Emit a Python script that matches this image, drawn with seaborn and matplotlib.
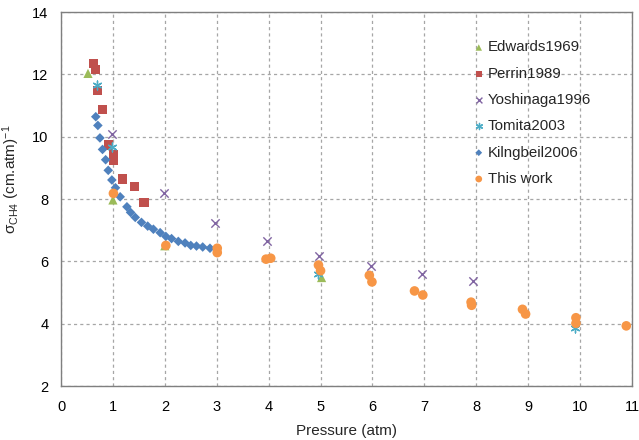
import matplotlib
matplotlib.use("Agg")
import matplotlib.pyplot as plt
import seaborn as sns
import pandas as pd

# ---- data ----
edwards_p = [0.52, 1.0, 2.0, 5.02]
edwards_s = [12.03, 7.97, 6.50, 5.48]

perrin_p = [0.62, 0.66, 0.71, 0.80, 0.91, 1.01, 1.01, 1.19, 1.41, 1.60]
perrin_s = [12.35, 12.16, 11.48, 10.86, 9.73, 9.44, 9.25, 8.64, 8.40, 7.88]

yoshinaga_p = [0.99, 1.98, 2.97, 3.97, 4.97, 5.97, 6.96, 7.94]
yoshinaga_s = [10.09, 8.19, 7.23, 6.65, 6.17, 5.85, 5.60, 5.37]

tomita_p = [0.69, 0.99, 4.96, 9.91]
tomita_s = [11.66, 9.68, 5.58, 3.87]

kling_p = [0.67, 0.71, 0.75, 0.80, 0.86, 0.91, 0.98, 1.05, 1.14, 1.27, 1.34,
           1.43, 1.55, 1.67, 1.78, 1.91, 2.02, 2.13, 2.26, 2.39, 2.50, 2.61,
           2.73, 2.87]
kling_s = [10.64, 10.36, 9.96, 9.59, 9.26, 8.92, 8.61, 8.36, 8.07, 7.75, 7.57,
           7.41, 7.25, 7.13, 7.03, 6.92, 6.80, 6.73, 6.64, 6.59, 6.51, 6.49,
           6.46, 6.42]

thiswork_p = [1.01, 2.02, 3.01, 3.01, 3.95, 4.04, 4.96, 5.0, 5.94, 5.99, 6.81,
              6.97, 7.90, 7.91, 8.89, 8.95, 9.92, 9.92, 10.89]
thiswork_s = [8.18, 6.51, 6.42, 6.28, 6.07, 6.10, 5.88, 5.70, 5.55, 5.34, 5.05,
              4.92, 4.69, 4.59, 4.46, 4.31, 4.19, 4.01, 3.93]

series_names = ["Edwards1969", "Perrin1989", "Yoshinaga1996", "Tomita2003",
                "Kilngbeil2006", "This work"]
series_data = [(edwards_p, edwards_s), (perrin_p, perrin_s),
               (yoshinaga_p, yoshinaga_s), (tomita_p, tomita_s),
               (kling_p, kling_s), (thiswork_p, thiswork_s)]

x_ticks = list(range(0, 12))
y_ticks = [2, 4, 6, 8, 10, 12, 14]

# ---- style ----
sns.set_style("white")
plt.rcParams['font.family'] = ['Liberation Sans', 'DejaVu Sans']
plt.rcParams['mathtext.fontset'] = 'custom'
plt.rcParams['mathtext.rm'] = 'Liberation Sans'
plt.rcParams['mathtext.it'] = 'Liberation Sans:italic'

colors = {"Edwards1969": "#9BBB59", "Perrin1989": "#C0504D",
          "Yoshinaga1996": "#8064A2", "Tomita2003": "#4BACC6",
          "Kilngbeil2006": "#4F81BD", "This work": "#F79646"}
markers = {"Edwards1969": "^", "Perrin1989": "s", "Yoshinaga1996": "x",
           "Tomita2003": (6, 2, 0), "Kilngbeil2006": "D", "This work": "o"}
sizes = {"Edwards1969": 44, "Perrin1989": 44, "Yoshinaga1996": 36,
         "Tomita2003": 40, "Kilngbeil2006": 24, "This work": 48}

frames = []
for name, (p, s) in zip(series_names, series_data):
    frames.append(pd.DataFrame({"Pressure": p, "sigma": s, "source": name}))
df = pd.concat(frames, ignore_index=True)

fig = plt.figure(figsize=(6.39, 4.40), dpi=100)
ax = fig.add_axes([61/639, 1-386/440, (632-61)/639, (386-12)/440])

for name in series_names:
    sub = df[df.source == name]
    lw = 1.0 if name in ("Yoshinaga1996", "Tomita2003") else 0
    sns.scatterplot(data=sub, x="Pressure", y="sigma", ax=ax,
                    color=colors[name], marker=markers[name], s=sizes[name],
                    linewidth=lw, edgecolor=colors[name] if lw else "none",
                    label=name, zorder=3)

ax.set_xlim(0, 11)
ax.set_ylim(2, 14)
ax.set_xticks(x_ticks)
ax.set_yticks(y_ticks)
ax.tick_params(axis='both', length=0, labelsize=10.5, colors="#000000")
ax.tick_params(axis='x', pad=10)
ax.tick_params(axis='y', pad=9)
ax.grid(True, linestyle=(0, (2.5, 2.5)), color="#a6a6a6", linewidth=0.9)
for sp in ax.spines.values():
    sp.set_visible(True)
    sp.set_color("#7f7f7f")
    sp.set_linewidth(1.0)

ax.set_xlabel("Pressure (atm)", fontsize=11, labelpad=7)
ax.set_ylabel(r"$\mathregular{\sigma_{CH4}}$ (cm.atm)$\mathregular{^{-1}}$",
              fontsize=11)
ax.yaxis.set_label_coords(-0.068, 0.553)

leg = ax.legend(loc="upper left", bbox_to_anchor=(0.708, 0.94), frameon=False,
                fontsize=10.8, handletextpad=0.1, labelspacing=0.82,
                markerscale=0.7, handlelength=1.0, borderaxespad=0)

fig.savefig("out.png", dpi=100)
